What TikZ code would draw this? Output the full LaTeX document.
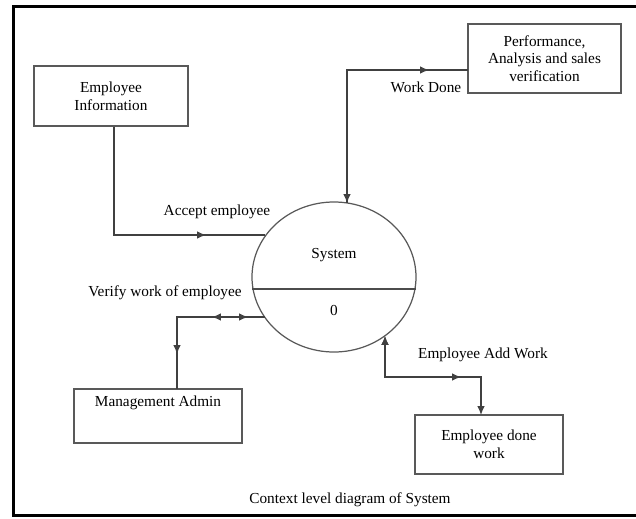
\documentclass[tikz,border=0pt]{standalone}
\usepackage{fontspec}
\setmainfont{Liberation Serif}
\usetikzlibrary{arrows.meta,positioning,shapes.geometric}
\begin{document}
\fontsize{8.7}{10}\selectfont
\begin{tikzpicture}[x=0.02cm,y=-0.02cm,
  flow/.style={draw=black!75, line width=0.6pt},
  ent/.style={draw=black!65, line width=0.7pt, align=center, inner sep=2pt},
  >={Latex[length=5pt,width=4.2pt]}]
\useasboundingbox (0,0) rectangle (636,518);
% outer frame, open on the right
\draw[line width=0.06cm] (636,6.5) -- (13.5,6.5) -- (13.5,515.5) -- (636,515.5);
% process
\draw[draw=black!65, line width=0.7pt] (334,277) ellipse (82 and 75);
\draw[draw=black!70, line width=0.7pt] (252,289) -- (416,289);
\node (sys) at (334,255) {System};
\node (sysnum) at (334,310) {0};
% entities
\node (info) [ent, minimum width=3.08cm, minimum height=1.2cm] at (111,96) {Employee\\Information};
\node (perf) [ent, minimum width=3.06cm, minimum height=1.38cm] at (544.5,58.5) {Performance,\\Analysis and sales\\verification};
\node (mgmt) [ent, minimum width=3.36cm, minimum height=1.08cm] at (158,416) {};
\node (mgmtlbl) at (158,403) {Management Admin};
\node (done) [ent, minimum width=2.96cm, minimum height=1.18cm] at (489,444.5) {Employee done\\work};
% end points on the circle and on the boxes
\coordinate (accin) at (265,235);
\coordinate (acctip) at (206,235);
\coordinate (wdin) at (347,203);
\coordinate (wdtip) at (429,70);
\coordinate (perfin) at (468,70);
\coordinate (vin) at (265,317);
\coordinate (vright) at (248,317);
\coordinate (vleft) at (212,317);
\coordinate (vdown) at (177,354);
\coordinate (mgmtin) at (177,389);
\coordinate (addin) at (385,336);
\coordinate (addtip) at (461,377);
\coordinate (donein) at (481,415);
% flows: full lines first, arrow heads on top
\draw[flow] (info.south -| 114,0) |- (accin);
\draw[flow,->] (info.south -| 114,0) |- (acctip);
\node (acclbl) at (217,212) {Accept employee};
\draw[flow] (wdin) |- (perfin);
\draw[flow,<->] (wdin) |- (wdtip);
\node (wdlbl) at (426,87) {Work Done};
\draw[flow] (vin) -| (mgmtin);
\draw[flow,<->] (vleft) -- (vright);
\draw[flow,->] (vleft) -| (vdown);
\node (vlbl) at (165,293) {Verify work of employee};
\draw[flow,<->] (addin) |- (donein |- addtip) -- (donein);
\draw[flow,<->] (addin) |- (addtip);
\node (addlbl) at (483,355) {Employee Add Work};
% caption
\node (caption) at (350,500) {Context level diagram of System};
\end{tikzpicture}
\end{document}
